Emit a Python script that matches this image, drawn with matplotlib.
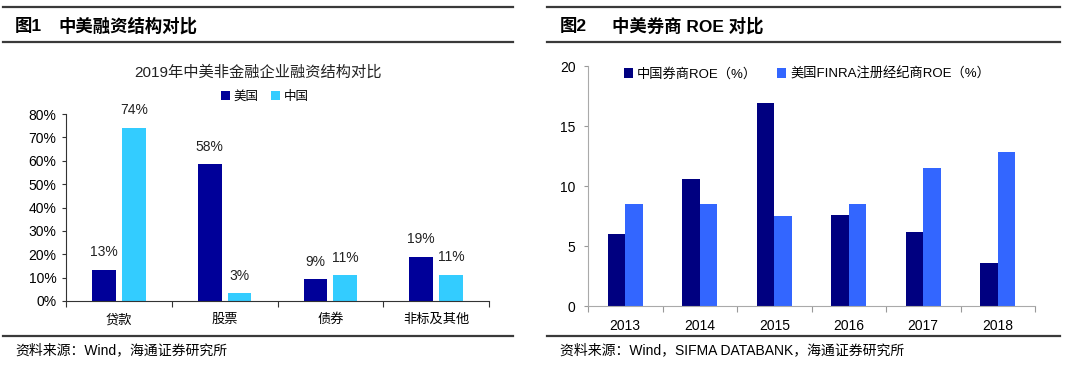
import matplotlib.pyplot as plt
from matplotlib.lines import Line2D
import numpy as np

plt.rcParams['font.family'] = ['Liberation Sans', 'Noto Sans CJK SC', 'DejaVu Sans']

# left chart: financing structure 2019
cats = ['贷款', '股票', '债券', '非标及其他']
us_share = [0.134, 0.584, 0.093, 0.189]
cn_share = [0.741, 0.034, 0.110, 0.113]

# right chart: broker ROE
years = ['2013', '2014', '2015', '2016', '2017', '2018']
cn_roe = [6.0, 10.6, 16.9, 7.6, 6.2, 3.6]
us_roe = [8.5, 8.5, 7.5, 8.5, 11.5, 12.8]

W, H = 1080, 366
fig = plt.figure(figsize=(W / 100, H / 100), dpi=100)

def fx(px):
    return px / W

def fy(py):
    return 1 - py / H

def rule(x0, x1, y):
    fig.add_artist(Line2D([fx(x0), fx(x1)], [fy(y), fy(y)], color='#3a3a3a', lw=1.6))

# frame lines and headings
for x0, x1 in [(3, 513), (547, 1060)]:
    rule(x0, x1, 7)
    rule(x0, x1, 42)
    rule(x0, x1, 336)

fig.text(fx(15), fy(26), '图1', fontsize=12.5, fontweight='bold', va='center')
fig.text(fx(58), fy(26), '中美融资结构对比', fontsize=12.5, fontweight='bold', va='center')
fig.text(fx(560), fy(26), '图2', fontsize=12.5, fontweight='bold', va='center')
fig.text(fx(612), fy(26), '中美券商 ROE 对比', fontsize=12.5, fontweight='bold', va='center')
fig.text(fx(15), fy(350), '资料来源：Wind，海通证券研究所', fontsize=10, va='center')
fig.text(fx(560), fy(350), '资料来源：Wind，SIFMA DATABANK，海通证券研究所', fontsize=10, va='center')

# ---- left chart
ax1 = fig.add_axes([fx(66), fy(301), fx(489 - 66), (301 - 114) / H])
x = np.arange(len(cats))
bw = 0.226
b_us = ax1.bar(x - 0.141, us_share, bw, color='#000099', label='美国')
b_cn = ax1.bar(x + 0.141, cn_share, bw, color='#33CCFF', label='中国')
for bars, vals in [(b_us, us_share), (b_cn, cn_share)]:
    for b, v in zip(bars, vals):
        ax1.text(b.get_x() + b.get_width() / 2, v + 0.045, f'{v * 100:.0f}%',
                 ha='center', va='bottom', fontsize=10, color='#222222')
ax1.set_ylim(0, 0.8)
ax1.set_xlim(-0.5, len(cats) - 0.5)
ticks = np.arange(0, 0.81, 0.1)
ax1.set_yticks(ticks)
ax1.set_yticklabels([f'{int(round(t * 100))}%' for t in ticks], fontsize=10)
ax1.set_xticks(np.arange(-0.5, len(cats), 1.0))
ax1.set_xticklabels([])
ax1.set_xticks(x, minor=True)
ax1.set_xticklabels(cats, minor=True, fontsize=9.5)
ax1.tick_params(axis='x', which='minor', length=0, pad=9)
ax1.tick_params(axis='x', which='major', length=4, direction='out', color='#333333')
ax1.tick_params(axis='y', length=3, color='#333333', pad=4)
for s in ['top', 'right']:
    ax1.spines[s].set_visible(False)
for s in ['left', 'bottom']:
    ax1.spines[s].set_color('#333333')
fig.text(fx(258), fy(73), '2019年中美非金融企业融资结构对比', fontsize=11,
         color='#222222', ha='center', va='center')
ax1.legend(loc='center', bbox_to_anchor=(fx(265), fy(97)), bbox_transform=fig.transFigure,
           ncol=2, frameon=False, fontsize=9, handlelength=0.7, handleheight=0.7,
           handletextpad=0.3, columnspacing=1.0)

# ---- right chart
ax2 = fig.add_axes([fx(588), fy(306), fx(1035 - 588), (306 - 66) / H])
x2 = np.arange(len(years))
bw2 = 0.235
ax2.bar(x2 - bw2 / 2, cn_roe, bw2, color='#000080', label='中国券商ROE（%）')
ax2.bar(x2 + bw2 / 2, us_roe, bw2, color='#3366FF', label='美国FINRA注册经纪商ROE（%）')
ax2.set_ylim(0, 20)
ax2.set_xlim(-0.5, len(years) - 0.5)
ax2.set_yticks([0, 5, 10, 15, 20])
ax2.tick_params(axis='y', labelsize=10, length=3, color='#999999', pad=6)
ax2.set_xticks(np.arange(-0.5, len(years), 1.0))
ax2.set_xticklabels([])
ax2.set_xticks(x2, minor=True)
ax2.set_xticklabels(years, minor=True, fontsize=10)
ax2.tick_params(axis='x', which='minor', length=0, pad=9)
ax2.tick_params(axis='x', which='major', length=4, direction='out', color='#999999')
for s in ['top', 'right']:
    ax2.spines[s].set_visible(False)
for s in ['left', 'bottom']:
    ax2.spines[s].set_color('#aaaaaa')
ax2.legend(loc='center', bbox_to_anchor=(fx(807), fy(74)), bbox_transform=fig.transFigure,
           ncol=2, frameon=False, fontsize=9.5, handlelength=0.7, handleheight=0.7,
           handletextpad=0.3, columnspacing=1.5)

fig.savefig('out.png', dpi=100)
